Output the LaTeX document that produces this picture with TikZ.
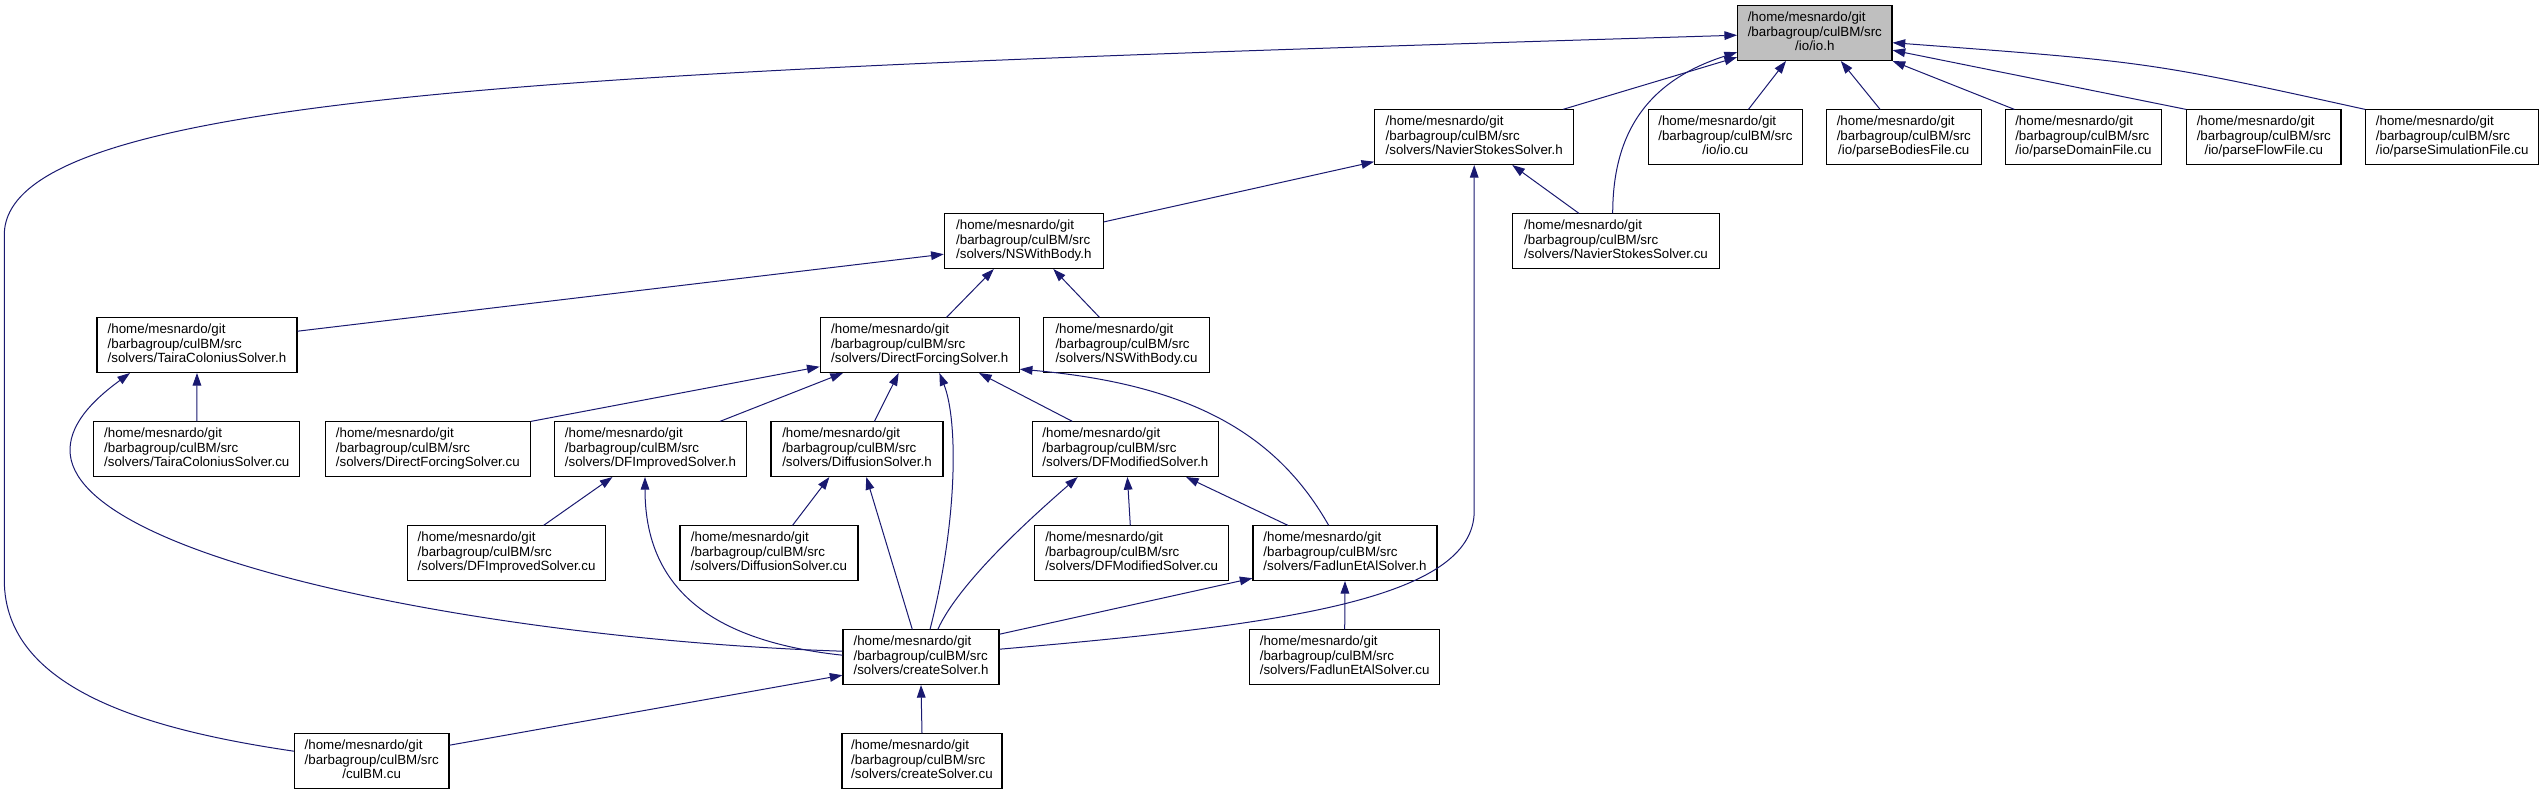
\documentclass[tikz,border=0pt]{standalone}
\usepackage{fontspec}
\setmainfont{Liberation Sans}
\usetikzlibrary{arrows.meta,calc}
\definecolor{edgeblue}{HTML}{191970}
\definecolor{hlgray}{HTML}{BFBFBF}
\newcommand{\doxlbl}[1]{\begin{tabular}{@{}l@{}}/home/mesnardo/git\\/barbagroup/culBM/src\\\multicolumn{1}{@{}c@{}}{#1}\end{tabular}}
\tikzset{
  box/.style={draw=black, line width=0.8pt, fill=white, minimum height=40.9pt, inner xsep=2pt, inner ysep=0pt, font=\fontsize{10}{10.65}\selectfont, anchor=center},
  hlbox/.style={box, fill=hlgray},
  dep/.style={draw=edgeblue, line width=0.75pt, -{Triangle[length=9.5pt,width=6.5pt]}},
}
\begin{document}
\begin{tikzpicture}[x=0.75pt,y=-0.75pt]
\useasboundingbox (0,0) rectangle (2543,795);
% row 0
\node[hlbox, minimum width=115.8pt] (ioh) at (1814.8,33.2) {\doxlbl{/io/io.h}};
% row 1
\node[box, minimum width=149.3pt] (nssh) at (1474.2,137.2) {\doxlbl{/solvers/NavierStokesSolver.h}};
\node[box, minimum width=116pt] (iocu) at (1725.4,137.2) {\doxlbl{/io/io.cu}};
\node[box, minimum width=116.3pt] (pbf) at (1903.8,137.2) {\doxlbl{/io/parseBodiesFile.cu}};
\node[box, minimum width=117pt] (pdf) at (2083.4,137.2) {\doxlbl{/io/parseDomainFile.cu}};
\node[box, minimum width=115.7pt] (pff) at (2263.8,137.2) {\doxlbl{/io/parseFlowFile.cu}};
\node[box, minimum width=129.8pt] (psf) at (2452.2,137.2) {\doxlbl{/io/parseSimulationFile.cu}};
% row 2
\node[box, minimum width=119.3pt] (nsbh) at (1023.8,241.2) {\doxlbl{/solvers/NSWithBody.h}};
\node[box, minimum width=155.3pt] (nsscu) at (1616,241.2) {\doxlbl{/solvers/NavierStokesSolver.cu}};
% row 3
\node[box, minimum width=150pt] (taih) at (197,345.2) {\doxlbl{/solvers/TairaColoniusSolver.h}};
\node[box, minimum width=149.3pt] (dfsh) at (919.7,345.2) {\doxlbl{/solvers/DirectForcingSolver.h}};
\node[box, minimum width=124.5pt] (nsbcu) at (1126.5,345.2) {\doxlbl{/solvers/NSWithBody.cu}};
% row 4
\node[box, minimum width=154.5pt] (taicu) at (196.8,449.2) {\doxlbl{/solvers/TairaColoniusSolver.cu}};
\node[box, minimum width=153.8pt] (dfscu) at (427.8,449.2) {\doxlbl{/solvers/DirectForcingSolver.cu}};
\node[box, minimum width=144pt] (dfih) at (650.5,449.2) {\doxlbl{/solvers/DFImprovedSolver.h}};
\node[box, minimum width=129pt] (difh) at (857,449.2) {\doxlbl{/solvers/DiffusionSolver.h}};
\node[box, minimum width=139.9pt] (dfmh) at (1125.4,449.2) {\doxlbl{/solvers/DFModifiedSolver.h}};
% row 5
\node[box, minimum width=148.5pt] (dficu) at (506.6,553.2) {\doxlbl{/solvers/DFImprovedSolver.cu}};
\node[box, minimum width=133.5pt] (difcu) at (769,553.2) {\doxlbl{/solvers/DiffusionSolver.cu}};
\node[box, minimum width=146pt] (dfmcu) at (1131.6,553.2) {\doxlbl{/solvers/DFModifiedSolver.cu}};
\node[box, minimum width=138pt] (fadh) at (1345,553.2) {\doxlbl{/solvers/FadlunEtAlSolver.h}};
% row 6
\node[box, minimum width=117pt] (csh) at (921,657.2) {\doxlbl{/solvers/createSolver.h}};
\node[box, minimum width=142.5pt] (fadcu) at (1344.7,657.2) {\doxlbl{/solvers/FadlunEtAlSolver.cu}};
% row 7
\node[box, minimum width=115.9pt] (culbm) at (371.7,761.2) {\doxlbl{/culBM.cu}};
\node[box, minimum width=120pt] (cscu) at (922,761.2) {\doxlbl{/solvers/createSolver.cu}};

% edges into io.h
\draw[dep] ($(culbm.west)+(0,-10)$) .. controls (150,730) and (4.3,690) .. (4.3,580) -- (4.3,235) .. controls (4.3,90) and (600,70) .. ($(ioh.west)+(0,2)$);
\draw[dep] ($(nssh.north)+(88.7,0)$) -- ($(ioh.west)+(0,24)$);
\draw[dep] ($(nsscu.north)+(-3.3,0)$) .. controls (1612.7,130) and (1650,80) .. ($(ioh.west)+(0,19)$);
\draw[dep] ($(iocu.north)+(23,0)$) -- ($(ioh.south)+(-28.8,0)$);
\draw[dep] ($(pbf.north)+(-23.7,0)$) -- ($(ioh.south)+(26,0)$);
\draw[dep] ($(pdf.north)+(-69,0)$) -- (ioh.south east);
\draw[dep] (pff.north west) -- ($(ioh.east)+(0,17)$);
\draw[dep] (psf.north west) .. controls (2150,62) .. ($(ioh.east)+(0,9.5)$);
% edges into NavierStokesSolver.h
\draw[dep] ($(nsbh.east)+(0,-19.3)$) -- ($(nssh.west)+(0,24.5)$);
\draw[dep] ($(nsscu.north)+(-37,0)$) -- ($(nssh.south)+(38,0)$);
\draw[dep] ($(csh.east)+(0,-8)$) .. controls (1280,625) and (1474.2,600) .. ($(nssh.south)+(0,346)$) -- (nssh.south);
% edges into NSWithBody.h
\draw[dep] ($(taih.east)+(0,-14)$) -- ($(nsbh.west)+(0,13)$);
\draw[dep] ($(dfsh.north)+(26.8,0)$) -- ($(nsbh.south)+(-30,0)$);
\draw[dep] ($(nsbcu.north)+(-27,0)$) -- ($(nsbh.south)+(29.5,0)$);
% edges into TairaColoniusSolver.h
\draw[dep] (taicu.north) -- (taih.south);
\draw[dep] ($(csh.west)+(0,-6)$) .. controls (500,640) and (70,560) .. (70,450) .. controls (70,420) and (100,395) .. ($(taih.south)+(-67,0)$);
% edges into DirectForcingSolver.h
\draw[dep] (dfscu.north east) -- ($(dfsh.west)+(0,21.5)$);
\draw[dep] ($(dfih.north)+(69.4,0)$) -- ($(dfsh.south)+(-76.7,0)$);
\draw[dep] ($(difh.north)+(17.4,0)$) -- ($(dfsh.south)+(-21,0)$);
\draw[dep] ($(csh.north)+(9,0)$) .. controls (958,520) and (958,420) .. ($(dfsh.south)+(19.7,0)$);
\draw[dep] ($(dfmh.north)+(-53,0)$) -- ($(dfsh.south)+(59.3,0)$);
\draw[dep] ($(fadh.north)+(-16.3,0)$) .. controls (1280,440) and (1200,385) .. ($(dfsh.east)+(0,24)$);
% edges into DFImprovedSolver.h
\draw[dep] ($(dficu.north)+(37,0)$) -- ($(dfih.south)+(-38,0)$);
\draw[dep] ($(csh.west)+(0,-2)$) .. controls (700,640) and (645,580) .. ($(dfih.south)+(-5.5,0)$);
% edges into DiffusionSolver.h
\draw[dep] ($(difcu.north)+(23.5,0)$) -- ($(difh.south)+(-27.6,0)$);
\draw[dep] ($(csh.north)+(-8.7,0)$) -- ($(difh.south)+(9.3,0)$);
% edges into DFModifiedSolver.h
\draw[dep] ($(csh.north)+(16.8,0)$) .. controls (960,580) and (1040,510) .. ($(dfmh.south)+(-47.7,0)$);
\draw[dep] ($(dfmcu.north)+(-1.3,0)$) -- ($(dfmh.south)+(2,0)$);
\draw[dep] ($(fadh.north)+(-57,0)$) -- ($(dfmh.south)+(60.6,0)$);
% edges into FadlunEtAlSolver.h
\draw[dep] ($(csh.east)+(0,-23)$) -- ($(fadh.west)+(0,25)$);
\draw[dep] (fadcu.north) -- (fadh.south);
% edges into createSolver.h
\draw[dep] ($(culbm.east)+(0,-16)$) -- ($(csh.west)+(0,18)$);
\draw[dep] (cscu.north) -- (csh.south);
\end{tikzpicture}
\end{document}
